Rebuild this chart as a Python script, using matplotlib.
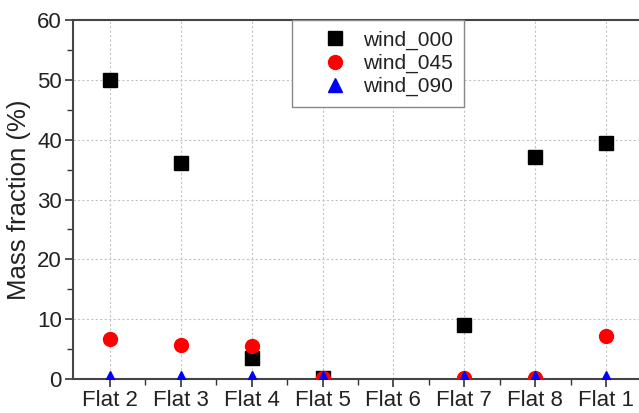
import numpy as np
import matplotlib
matplotlib.use("Agg")
import matplotlib.pyplot as plt
from matplotlib.ticker import MultipleLocator, FixedLocator

plt.rcParams['font.family'] = ['Liberation Sans', 'DejaVu Sans']

categories = ["Flat 2", "Flat 3", "Flat 4", "Flat 5", "Flat 6", "Flat 7", "Flat 8", "Flat 1"]
wind_000 = [50.0, 36.1, 3.5, 0.1, np.nan, 9.0, 37.1, 39.5]
wind_045 = [6.7, 5.7, 5.5, 0.1, np.nan, 0.1, 0.1, 7.2]
wind_090 = [0.1, 0.1, 0.1, 0.1, np.nan, 0.1, 0.1, 0.1]
y_ticks = [0, 10, 20, 30, 40, 50, 60]

W, H = 639, 413
fig = plt.figure(figsize=(W / 100, H / 100), dpi=100)
ax = fig.add_axes([73 / W, (H - 379) / H, 568.5 / W, 359 / H])

x = np.arange(len(categories))
ax.plot(x, wind_000, linestyle='none', marker='s', markersize=9.5, color='black', label='wind_000', zorder=3)
ax.plot(x, wind_045, linestyle='none', marker='o', markersize=10, color='#ff0000', label='wind_045', zorder=3)
ax.plot(x, wind_090, linestyle='none', marker='^', markersize=10, color='#0000ff', label='wind_090', zorder=3)

ax.set_xlim(-0.52, len(categories) - 0.5)
ax.set_ylim(0, 60)
ax.set_xticks(x)
ax.set_xticklabels(categories)
ax.xaxis.set_minor_locator(FixedLocator(x[:-1] + 0.5))
ax.set_yticks(y_ticks)
ax.yaxis.set_minor_locator(MultipleLocator(5))

ax.tick_params(axis='both', which='major', direction='out', length=6, width=1.2, colors='#333333', labelsize=16, labelcolor='#222222', pad=2)
ax.tick_params(axis='both', which='minor', direction='out', length=4, width=1.0, colors='#333333')
ax.tick_params(top=False, right=False, which='both')

for s in ax.spines.values():
    s.set_linewidth(1.5)
    s.set_color('#444444')

ax.grid(True, which='major', linestyle=(0, (2, 2)), color='#c4c4c4', linewidth=0.8)
ax.set_axisbelow(True)

ax.set_ylabel('Mass fraction (%)', fontsize=18.5, labelpad=4, color='#222222')

leg = ax.legend(loc='upper left', bbox_to_anchor=((292 - 73) / 568.5, 1.0), fontsize=15,
                frameon=True, fancybox=False, edgecolor='#888888', framealpha=1,
                borderpad=0.5, handletextpad=-0.2, labelspacing=0.2, handlelength=3.13,
                borderaxespad=0)
leg.get_frame().set_linewidth(1.0)
for t in leg.get_texts():
    t.set_color('#222222')

fig.savefig('out.png', dpi=100)
